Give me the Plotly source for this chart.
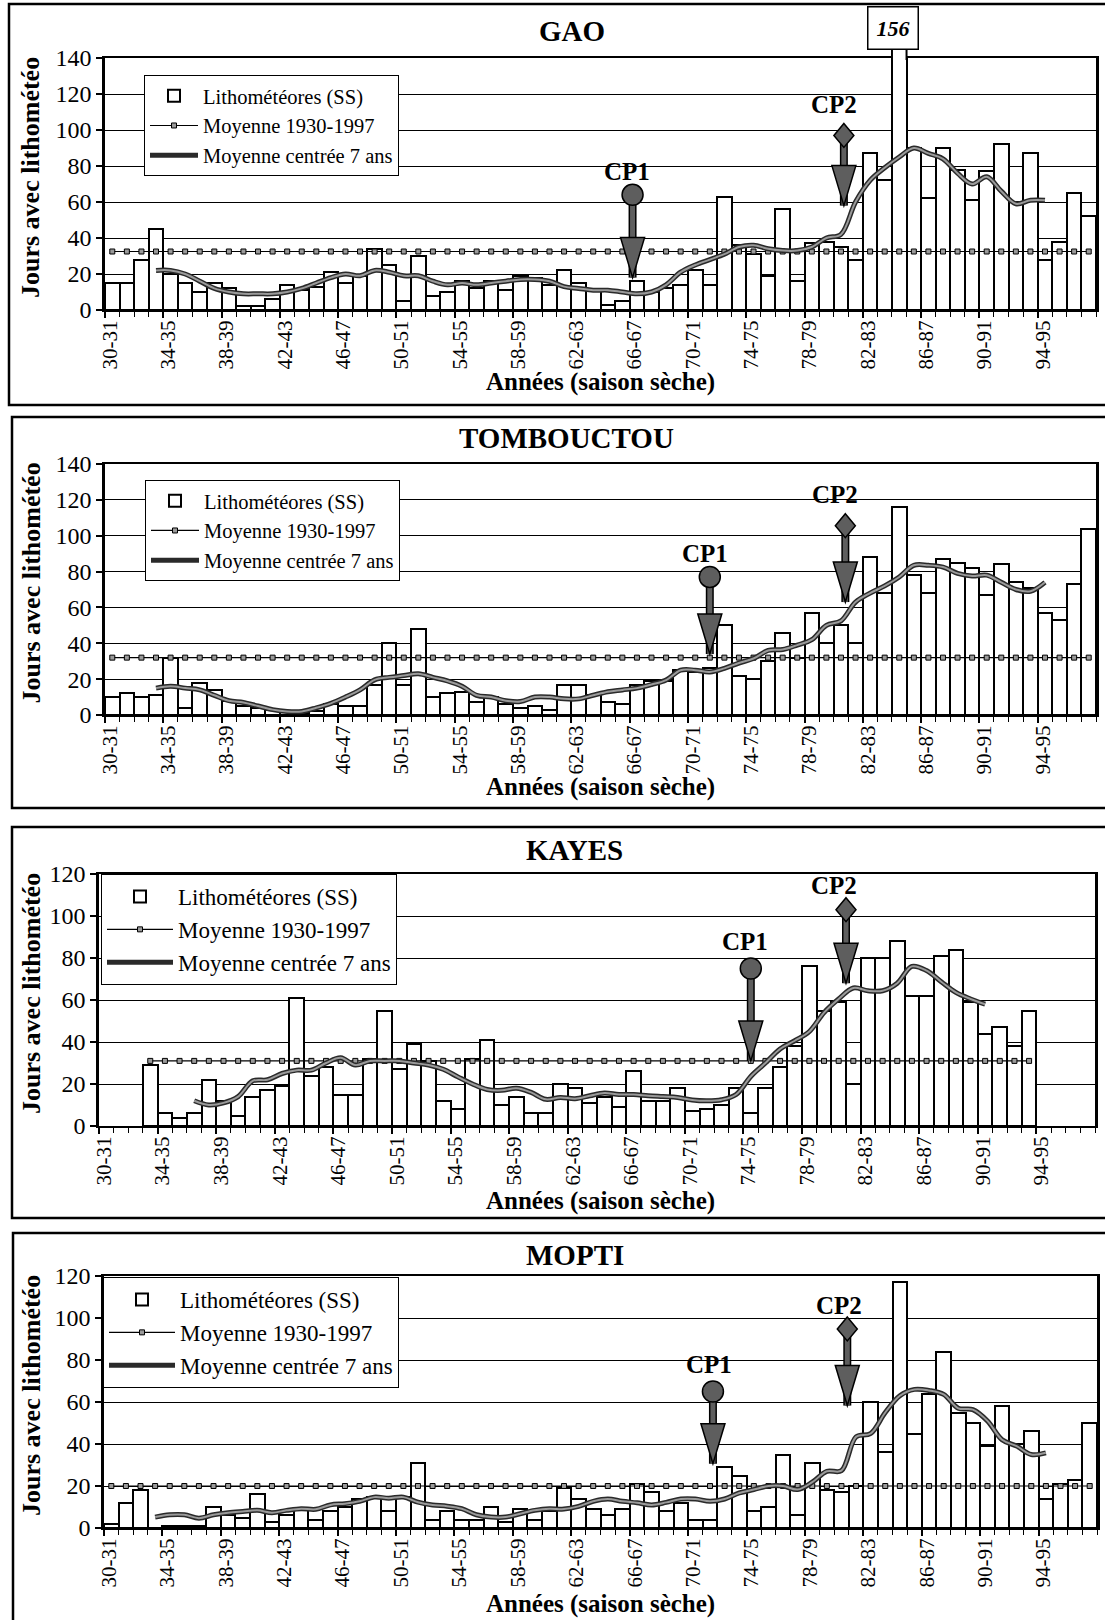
import plotly.graph_objects as go

W, H = 1105, 1620
FONT = "Liberation Serif"

# ---------------- data ----------------
years = list(range(1930, 1998))
categories = [f"{y % 100:02d}-{(y + 1) % 100:02d}" for y in years]
tick_index = list(range(0, 65, 4))
tick_labels = [categories[i] for i in tick_index]

stations = ["GAO", "TOMBOUCTOU", "KAYES", "MOPTI"]

gao_bars = [15, 15, 28, 45, 20, 15, 10, 15, 12, 2,
            2, 6, 14, 11, 13, 21, 15, 19, 34, 25,
            5, 30, 8, 10, 16, 12, 16, 11, 19, 18,
            14, 22, 15, 11, 3, 5, 16, 10, 12, 14,
            22, 14, 63, 36, 31, 19, 56, 16, 37, 38,
            35, 28, 87, 72, 156, 90, 62, 90, 78, 61,
            77, 92, 60, 87, 28, 38, 65, 52]
gao_mean = 32.5
gao_ma_start = 3
gao_ma = [22, 22, 20, 16, 12, 10, 9,
          9, 9, 10, 12, 15, 18, 20, 19, 22, 21,
          19, 19, 16, 14, 15, 14, 15, 16, 17, 17,
          16, 13, 12, 11, 11, 10, 9, 10, 14, 21,
          25, 28, 31, 35, 36, 34, 33, 33, 35, 40,
          42, 60, 72, 79, 85, 90, 87, 84, 76, 70,
          74, 66, 59, 61, 61]

tomb_bars = [10, 12, 10, 11, 32, 4, 18, 14, 8, 5,
             4, 3, 2, 1, 2, 6, 5, 5, 17, 40,
             17, 48, 10, 12, 13, 7, 10, 6, 4, 5,
             3, 17, 17, 11, 7, 6, 17, 19, 19, 25,
             24, 26, 50, 22, 20, 30, 46, 32, 57, 40,
             50, 40, 88, 68, 116, 78, 68, 87, 85, 82,
             67, 84, 74, 71, 57, 53, 73, 104]
tomb_mean = 32
tomb_ma_start = 3
tomb_ma = [15, 16, 15, 14, 11, 8, 7,
           5, 3, 2, 2, 4, 6.5, 10, 14, 19.6, 21,
           22, 23, 21, 19, 16, 11, 10, 8, 7.5, 10,
           10, 9, 9, 11, 13, 14, 15, 17, 19.5, 25,
           25, 24, 26, 29, 31.5, 36, 36.5, 39, 42, 50,
           52.5, 63, 68, 72, 77, 83.5, 83.5, 82.5, 79, 77.5,
           78, 74, 70, 69, 74]

kayes_bars = [None, None, None, 29, 6, 4, 6, 22, 12, 5,
              14, 17, 19, 61, 24, 28, 15, 15, 32, 55,
              27, 39, 31, 12, 8, 32, 41, 10, 14, 6,
              6, 20, 18, 11, 14, 9, 26, 12, 12, 18,
              7, 8, 10, 18, 6, 18, 28, 38, 76, 55,
              59, 20, 80, 80, 88, 62, 62, 81, 84, 59,
              44, 47, 38, 55, None, None, None, None]
kayes_mean = 31
kayes_ma_start = 6
kayes_ma = [12, 10, 11, 14,
            21.5, 22, 25, 26.6, 26.6, 30, 32.5, 29, 31, 31,
            31, 30, 29, 27, 23.4, 20, 17.4, 17, 18, 16,
            12.7, 13.6, 13, 14.4, 15.7, 15, 15, 14.4, 14, 13.6,
            12.4, 12, 12.5, 15, 23.6, 30, 36.7, 40.6, 45, 54,
            60.5, 65.7, 64.4, 64.4, 68, 76, 74, 68.7, 63.6, 60.5,
            58]

mopti_bars = [2, 12, 18, 0, 1, 1, 1, 10, 6, 5,
              16, 3, 6, 9, 4, 8, 10, 14, 15, 8,
              15, 31, 4, 8, 4, 4, 10, 3, 9, 4,
              8, 19, 14, 9, 6, 9, 21, 17, 8, 12,
              4, 4, 29, 25, 8, 10, 35, 6, 31, 18,
              17, 20, 60, 36, 117, 45, 64, 84, 55, 50,
              39, 58, 40, 46, 14, 21, 23, 50]
mopti_mean = 20
mopti_ma_start = 3
mopti_ma = [5.2, 6.3, 6.3, 4.7, 6.3, 7.3, 7.9,
            8.4, 7.3, 8.4, 9.2, 8.9, 11, 11.6, 12.7, 14.7, 14.2,
            14.7, 12.3, 11, 10.4, 9.2, 6.3, 5.2, 5.2, 6.8, 8.4,
            9.2, 9, 10.3, 12.7, 13.8, 12.7, 12, 11, 12.2, 13.8,
            13.8, 12.7, 13.8, 16.7, 18.3, 20, 20, 18.3, 21.8, 27,
            27.3, 43.4, 45, 55, 63, 66, 65.5, 63.6, 57, 56.4,
            51, 42, 39, 35, 35.8]

y_max = [140, 140, 120, 120]

# change points (arrow x in category units, values on the y axis)
cp1_x = [36.2, 41.5, 44.5, 41.7]
cp1_top = [64, 77, 75, 65]
cp1_tip = [18, 34, 31, 30.6]
cp1_label_x = [35.8, 41.2, 44.1, 41.4]
cp1_label_y = [77, 90, 88, 78]
cp2_x = [50.7, 50.8, 51.0, 50.9]
cp2_top = [97, 105.6, 103, 94.8]
cp2_tip = [58, 63, 68, 58.3]
cp2_label_x = [50.0, 50.1, 50.2, 50.3]
cp2_label_y = [114, 123, 114.6, 106]

bars_all = [gao_bars, tomb_bars, kayes_bars, mopti_bars]
means_all = [gao_mean, tomb_mean, kayes_mean, mopti_mean]
ma_all = [(gao_ma_start, gao_ma), (tomb_ma_start, tomb_ma),
          (kayes_ma_start, kayes_ma), (mopti_ma_start, mopti_ma)]

# ---------------- layout geometry (pixels) ----------------
plot_box = [(105, 1096, 58, 310), (105, 1096, 464, 715),
            (99, 1095, 874, 1126), (104, 1097, 1276, 1528)]
# left, top, font size, symbol width
legend_pos = [(144, 75, 20.5, 48), (145, 480, 20.5, 48),
              (101, 874, 23, 66), (103, 1277, 23, 66)]
title_pos = [(572, 31), (566, 438), (574, 850), (575, 1255)]
xtitle_y = [382, 787, 1201, 1604]
frames = [(9, 4, 405), (12, 417, 808), (12, 827, 1218), (13, 1233, 1632)]


def fx(px):
    return px / W


def fy(py):
    return 1 - py / H


fig = go.Figure()
layout = dict(template="none", width=W, height=H,
              margin=dict(l=0, r=0, t=0, b=0, autoexpand=False),
              paper_bgcolor="white", plot_bgcolor="white",
              font=dict(family=FONT, color="black"),
              showlegend=True, bargap=0)
shapes = []
annotations = []

n = len(categories)
centers = [i + 0.5 for i in range(n)]
ARROW = "#5e5e5e"

for k in range(4):
    ax = "" if k == 0 else str(k + 1)
    xr, yr = "x" + ax, "y" + ax
    leg = "legend" + ax
    bars = bars_all[k]

    fig.add_trace(go.Bar(
        x=centers, y=bars, width=1, xaxis=xr, yaxis=yr, legend=leg,
        name="Lithométéores (SS)",
        marker=dict(color="white", line=dict(color="black", width=2))))

    mx = [c for c, v in zip(centers, bars) if v is not None]
    fig.add_trace(go.Scatter(
        x=mx, y=[means_all[k]] * len(mx), xaxis=xr, yaxis=yr, legend=leg,
        name="Moyenne 1930-1997", mode="lines+markers",
        line=dict(color="black", width=1.2),
        marker=dict(symbol="square", size=5, color="#9a9a9a",
                    line=dict(color="black", width=1))))

    start, ma = ma_all[k]
    ma_x = centers[start:start + len(ma)]
    fig.add_trace(go.Scatter(
        x=ma_x, y=ma, xaxis=xr, yaxis=yr, legend=leg,
        name="Moyenne centrée 7 ans", mode="lines",
        line=dict(color="#2a2a2a", width=5, shape="spline", smoothing=1)))
    fig.add_trace(go.Scatter(
        x=ma_x, y=ma, xaxis=xr, yaxis=yr, legend=leg, showlegend=False,
        mode="lines", hoverinfo="skip",
        line=dict(color="#9a9a9a", width=2, shape="spline", smoothing=1)))

    x0, x1, y0, y1 = plot_box[k]
    layout["xaxis" + ax] = dict(
        domain=[fx(x0), fx(x1)], anchor=yr, range=[0, n], automargin=False,
        tickmode="array", tickvals=tick_index, ticktext=tick_labels,
        tickangle=-90, ticks="outside", ticklen=6, tickwidth=1.5,
        tickcolor="black", ticklabelshift=5, ticklabelstandoff=-6,
        minor=dict(tickmode="linear", tick0=0, dtick=1, ticks="outside",
                   ticklen=5, tickwidth=1, tickcolor="black"),
        showline=True, linecolor="black", linewidth=2, mirror=True,
        showgrid=False, zeroline=False,
        tickfont=dict(family=FONT, size=21, color="black"))
    layout["yaxis" + ax] = dict(
        domain=[fy(y1), fy(y0)], anchor=xr, range=[0, y_max[k]], dtick=20,
        automargin=False,
        ticks="outside", ticklen=6, tickwidth=1.5, tickcolor="black",
        showline=True, linecolor="black", linewidth=2.5, mirror=True,
        showgrid=True, gridcolor="black", gridwidth=1, zeroline=False,
        tickfont=dict(family=FONT, size=24, color="black"))

    lx, ly, lfs, lw = legend_pos[k]
    layout[leg] = dict(
        x=fx(lx), y=fy(ly), xanchor="left", yanchor="top",
        bgcolor="white", bordercolor="black", borderwidth=1,
        font=dict(family=FONT, size=lfs, color="black"),
        itemwidth=lw, tracegroupgap=0, traceorder="normal")

    # panel frame
    fl, ft, fb = frames[k]
    shapes.append(dict(type="rect", xref="paper", yref="paper",
                       x0=fx(fl), x1=fx(W + 10), y0=fy(fb), y1=fy(ft),
                       line=dict(color="black", width=2.5), layer="below"))

    # titles
    tx, ty = title_pos[k]
    annotations.append(dict(text=f"<b>{stations[k]}</b>", x=fx(tx), y=fy(ty),
                            xref="paper", yref="paper", showarrow=False,
                            xanchor="center", yanchor="middle",
                            font=dict(family=FONT, size=29, color="black")))
    annotations.append(dict(text="<b>Années (saison sèche)</b>", x=fx(600),
                            y=fy(xtitle_y[k]), xref="paper", yref="paper",
                            showarrow=False, xanchor="center",
                            yanchor="middle",
                            font=dict(family=FONT, size=25, color="black")))
    annotations.append(dict(text="<b>Jours avec lithométéo</b>", x=fx(31),
                            y=fy((y0 + y1) / 2 - 6), xref="paper",
                            yref="paper", showarrow=False, textangle=-90,
                            xanchor="center", yanchor="middle",
                            font=dict(family=FONT, size=26, color="black")))

    # change-point arrows
    for cx, top, tip, lxp, lyp, lab, marker in [
            (cp1_x[k], cp1_top[k], cp1_tip[k], cp1_label_x[k],
             cp1_label_y[k], "CP1", "circle"),
            (cp2_x[k], cp2_top[k], cp2_tip[k], cp2_label_x[k],
             cp2_label_y[k], "CP2", "diamond")]:
        shapes.append(dict(type="line", xref=xr, yref=yr, x0=cx, x1=cx,
                           y0=top, y1=tip, layer="above",
                           line=dict(color="black", width=8)))
        shapes.append(dict(type="line", xref=xr, yref=yr, x0=cx, x1=cx,
                           y0=top, y1=tip, layer="above",
                           line=dict(color=ARROW, width=5)))
        shapes.append(dict(type="path", xref=xr, yref=yr,
                           xsizemode="pixel", ysizemode="pixel",
                           xanchor=cx, yanchor=tip, layer="above",
                           path="M 0,0 L -12,40 L 12,40 Z",
                           fillcolor=ARROW,
                           line=dict(color="black", width=1.5)))
        if marker == "circle":
            shapes.append(dict(type="circle", xref=xr, yref=yr,
                               xsizemode="pixel", ysizemode="pixel",
                               xanchor=cx, yanchor=top, x0=-10.5, x1=10.5,
                               y0=-10.5, y1=10.5, layer="above",
                               fillcolor=ARROW,
                               line=dict(color="black", width=1.5)))
        else:
            shapes.append(dict(type="path", xref=xr, yref=yr,
                               xsizemode="pixel", ysizemode="pixel",
                               xanchor=cx, yanchor=top, layer="above",
                               path="M 0,12 L 10,0 L 0,-12 L -10,0 Z",
                               fillcolor=ARROW,
                               line=dict(color="black", width=1.5)))
        annotations.append(dict(text=f"<b>{lab}</b>", x=lxp, y=lyp,
                                xref=xr, yref=yr, showarrow=False,
                                xanchor="center", yanchor="middle",
                                font=dict(family=FONT, size=25,
                                          color="black")))

# GAO bar exceeding the axis: extension and value box
peak_i = max(range(n), key=lambda i: gao_bars[i])
peak_v = gao_bars[peak_i]
gx0, gx1, gy0, gy1 = plot_box[0]
shapes.append(dict(type="rect", xref="x", yref="paper", x0=peak_i, x1=peak_i + 1,
                   y0=fy(gy0 + 2), y1=fy(48), fillcolor="white",
                   line=dict(width=0), layer="above"))
for xe in (peak_i, peak_i + 1):
    shapes.append(dict(type="line", xref="x", yref="paper", x0=xe, x1=xe,
                       y0=fy(gy0 + 2), y1=fy(48), layer="above",
                       line=dict(color="black", width=2)))
annotations.append(dict(text=f"<b><i>{peak_v}</i></b>", x=peak_i + 0.5,
                        y=fy(28), xref="x", yref="paper", showarrow=False,
                        xanchor="center", yanchor="middle", xshift=-6,
                        bordercolor="black", borderwidth=1.5, borderpad=8,
                        bgcolor="white",
                        font=dict(family=FONT, size=22, color="black")))

layout["shapes"] = shapes
layout["annotations"] = annotations
fig.update_layout(**layout)
fig.write_html("out.html",
               config={"displayModeBar": False},
               post_script="document.body.style.margin='0';"
                           "document.body.style.overflow='hidden';")
